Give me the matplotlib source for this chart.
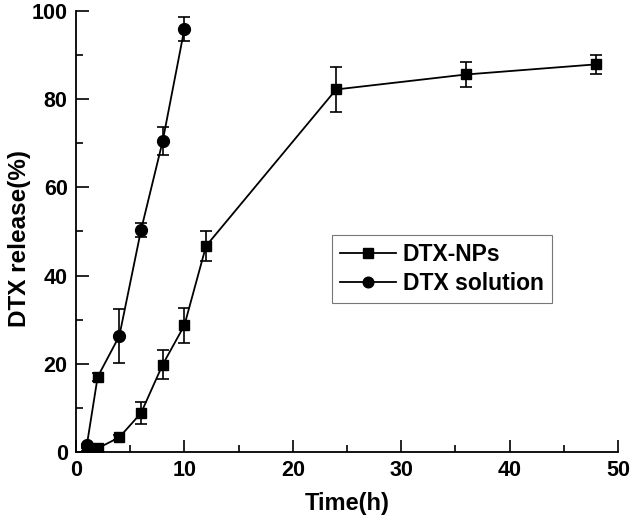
import matplotlib
matplotlib.use("Agg")
import matplotlib.pyplot as plt
from matplotlib.ticker import MultipleLocator

plt.rcParams['font.family'] = ['Liberation Sans', 'DejaVu Sans']
plt.rcParams['font.weight'] = 'bold'

# DTX-NPs
np_time = [1, 2, 4, 6, 8, 10, 12, 24, 36, 48]
np_release = [0.5, 0.8, 3.3, 8.8, 19.8, 28.7, 46.7, 82.2, 85.6, 87.9]
np_err = [0.3, 0.4, 0.5, 2.4, 3.2, 4.0, 3.4, 5.0, 2.9, 2.2]

# DTX solution (the 2 h point is drawn with a square in the original)
sol_time = [1, 2, 4, 6, 8, 10]
sol_release = [1.5, 17.0, 26.3, 50.3, 70.5, 95.9]
sol_err = [0.3, 0.9, 6.1, 1.6, 3.2, 2.8]
sol_square = [1]

fig = plt.figure(figsize=(6.3, 5.23), dpi=100)
ax = fig.add_axes([0.1206, 0.136, 0.8603, 0.843])

eb = dict(fmt='none', ecolor='black', elinewidth=1.2, capsize=4, capthick=1.2)
ax.errorbar(np_time, np_release, yerr=np_err, **eb)
ax.errorbar(sol_time, sol_release, yerr=sol_err, **eb)

ax.plot(np_time, np_release, color='black', marker='s', markersize=7.5,
        linewidth=1.3, label='DTX-NPs')
circ = [i for i in range(len(sol_time)) if i not in sol_square]
ax.plot(sol_time, sol_release, color='black', marker='o', markersize=8.5,
        linewidth=1.3, markevery=circ, label='DTX solution')
ax.plot([sol_time[i] for i in sol_square], [sol_release[i] for i in sol_square],
        linestyle='none', color='black', marker='s', markersize=7.5)

ax.set_xlim(0, 50)
ax.set_ylim(0, 100)
ax.xaxis.set_major_locator(MultipleLocator(10))
ax.xaxis.set_minor_locator(MultipleLocator(5))
ax.yaxis.set_major_locator(MultipleLocator(20))
ax.yaxis.set_minor_locator(MultipleLocator(10))
ax.tick_params(which='both', direction='in', width=1.2, labelsize=15.5, pad=6)
ax.tick_params(which='major', length=9)
ax.tick_params(which='minor', length=5)
for side in ['top', 'right']:
    ax.spines[side].set_visible(False)
for side in ['left', 'bottom']:
    ax.spines[side].set_linewidth(1.3)

ax.set_xlabel('Time(h)', fontsize=17, fontweight='bold', labelpad=8)
ax.set_ylabel('DTX release(%)', fontsize=17.5, fontweight='bold')
ax.yaxis.set_label_coords(-0.083, 0.483)

leg = ax.legend(loc='upper left', bbox_to_anchor=(0.472, 0.492), fontsize=16.5,
                frameon=True, fancybox=False, edgecolor='#555555',
                handlelength=2.45, handletextpad=0.3, borderpad=0.35,
                labelspacing=0.28, borderaxespad=0, markerscale=0.9)
leg.get_frame().set_linewidth(0.8)

fig.savefig('out.png', dpi=100)
